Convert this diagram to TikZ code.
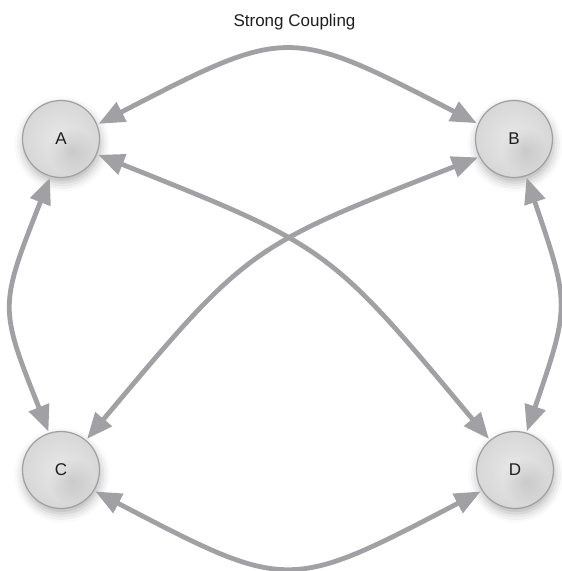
\documentclass[tikz,border=0pt]{standalone}
\usepackage{fontspec}
\setmainfont{Liberation Sans}
\usetikzlibrary{arrows.meta,shadows.blur}

\definecolor{linkgray}{RGB}{161,161,165}
\definecolor{ringgray}{RGB}{160,160,160}
\definecolor{ballin}{RGB}{232,232,232}
\definecolor{ballout}{RGB}{215,215,215}
\definecolor{balldark}{RGB}{170,170,170}
\definecolor{labelink}{RGB}{30,30,30}

\tikzset{
  ball/.style={
    circle, draw=ringgray, line width=1.2pt,
    minimum size=77pt, inner sep=0pt, outer sep=2pt,
    inner color=ballin, outer color=ballout,
    text=labelink, font=\fontsize{17}{20}\selectfont,
    blur shadow={shadow xshift=1pt, shadow yshift=-5pt,
                 shadow blur radius=9pt, shadow opacity=30},
    % a soft darker spot below right of the middle, built from
    % stacked translucent discs
    path picture={
      \foreach \rad in {22,20,...,2}
        \fill[balldark, fill opacity=0.035]
          ([shift={(11pt,-12pt)}]path picture bounding box.center)
          circle (\rad pt);
    }
  },
  link/.style={
    draw=linkgray, line width=4.8pt,
    arrows={Triangle[length=26pt,width=21pt]-Triangle[length=26pt,width=21pt]}
  },
  heading/.style={font=\fontsize{17}{20}\selectfont, text=labelink, anchor=base}
}

\begin{document}
\begin{tikzpicture}[x=1pt, y=-1pt]
  \useasboundingbox (0,0) rectangle (562,571);

  % title
  \node[heading] (title) at (294.5,26) {Strong Coupling};

  % the four coupled components
  \node[ball] (A) at (61,139) {A};
  \node[ball] (B) at (514,139) {B};
  \node[ball] (C) at (61,470) {C};
  \node[ball] (D) at (515,470) {D};

  % every pair is linked in both directions
  \draw[link] (A.22)  .. controls (288,26)  .. (B.157);
  \draw[link] (C.-32) .. controls (288,592) .. (D.212);
  \draw[link] (A.254) .. controls (-1,307)  .. (C.108);
  \draw[link] (B.288) .. controls (570,305) .. (D.73);
  \draw[link] (A.-23) .. controls (329,247) .. (D.130);
  \draw[link] (B.207) .. controls (248,247) .. (C.50);
\end{tikzpicture}
\end{document}
